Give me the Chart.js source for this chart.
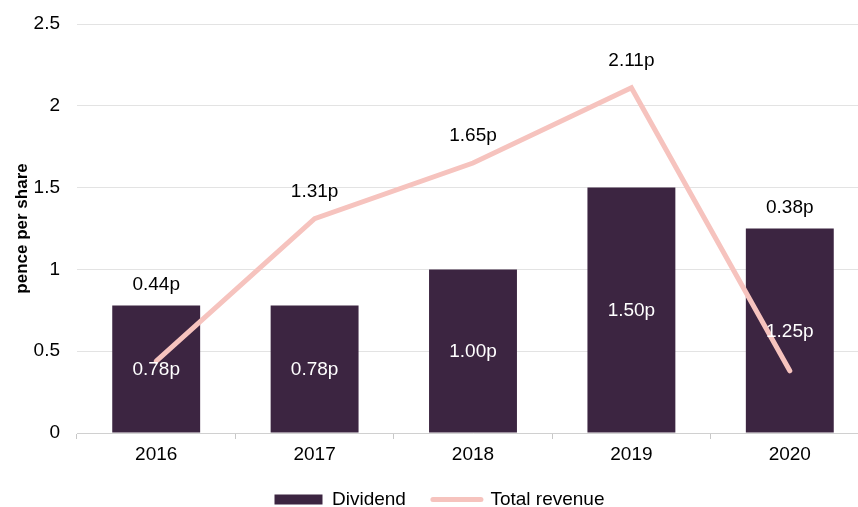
<!DOCTYPE html>
<html>
<head>
<meta charset="utf-8">
<script src="https://cdn.jsdelivr.net/npm/chart.js@4/dist/chart.umd.min.js"></script>
<style>
    body { margin: 0; overflow: hidden; background: #fff; }
    #grafico { display: block; }
</style>
</head>
<body>
<canvas id="grafico" width="880" height="519"></canvas>
<script>
const anni = ["2016", "2017", "2018", "2019", "2020"];
const dividendo = [0.78, 0.78, 1.00, 1.50, 1.25];
const ricavi = [0.44, 1.31, 1.65, 2.11, 0.38];
const tickY = [0, 0.5, 1, 1.5, 2, 2.5];

const FONT = '"Liberation Sans", Arial, sans-serif';
const VIOLA = "#3c2541";
const ROSA = "#f6c3be";

// Etichette "0.78p" dentro le barre e sopra la linea
const etichette = {
    id: "etichette",
    afterDatasetsDraw(chart) {
        let ctx = chart.ctx;
        let barre = chart.getDatasetMeta(0).data;
        let punti = chart.getDatasetMeta(1).data;
        ctx.save();
        ctx.font = "19px " + FONT;
        ctx.textAlign = "center";
        ctx.textBaseline = "middle";
        barre.forEach((b, i) => {
            ctx.fillStyle = "#ffffff";
            ctx.fillText(dividendo[i].toFixed(2) + "p", b.x, (b.y + b.base) / 2 + 1);
            let p = punti[i];
            let y = p.y < b.y ? p.y - 27 : b.y - 21;
            ctx.fillStyle = "#000000";
            ctx.fillText(ricavi[i].toFixed(2) + "p", b.x, y);
        });
        ctx.restore();
    }
};

let ctx = document.getElementById("grafico").getContext("2d");
new Chart(ctx, {
    data: {
        labels: anni,
        datasets: [{
            type: "bar",
            label: "Dividend",
            data: dividendo,
            backgroundColor: VIOLA,
            barPercentage: 0.555,
            categoryPercentage: 1,
            order: 2
        }, {
            type: "line",
            label: "Total revenue",
            data: ricavi,
            borderColor: ROSA,
            backgroundColor: ROSA,
            borderWidth: 5,
            borderCapStyle: "round",
            borderJoinStyle: "miter",
            pointRadius: 0,
            tension: 0,
            order: 1
        }]
    },
    options: {
        responsive: false,
        animation: false,
        devicePixelRatio: 1,
        layout: { padding: { top: 24, right: 11, left: 10, bottom: 0 } },
        scales: {
            x: {
                grid: {
                    offset: true,
                    drawOnChartArea: false,
                    drawTicks: true,
                    tickLength: 6,
                    color: "#c8c8c8"
                },
                border: { color: "#d0d0d0", width: 1 },
                ticks: { color: "#000", font: { family: FONT, size: 19 }, padding: 4 },
                afterFit: (asse) => { asse.height = 30; }
            },
            y: {
                min: 0,
                max: 2.5,
                afterBuildTicks: (asse) => { asse.ticks = tickY.map(v => ({ value: v })); },
                grid: { color: "#e3e3e3", drawTicks: false },
                border: { display: false },
                ticks: {
                    color: "#000",
                    font: { family: FONT, size: 19 },
                    padding: 17,
                    callback: (v) => String(v)
                },
                title: {
                    display: true,
                    text: "pence per share",
                    color: "#000",
                    font: { family: FONT, size: 17, weight: "bold" },
                    padding: { top: 2, bottom: 0 }
                },
                afterFit: (asse) => {
                    asse.width = 67;
                    asse.paddingTop = 0;
                    asse.paddingBottom = 0;
                }
            }
        },
        plugins: {
            legend: {
                position: "bottom",
                labels: {
                    color: "#000",
                    font: { family: FONT, size: 19 },
                    usePointStyle: true,
                    boxHeight: 10,
                    pointStyleWidth: 48,
                    padding: 27,
                    generateLabels: (chart) => [{
                        text: "Dividend",
                        fillStyle: VIOLA,
                        strokeStyle: VIOLA,
                        lineWidth: 0,
                        pointStyle: "rect",
                        datasetIndex: 0
                    }, {
                        text: "Total revenue",
                        fillStyle: ROSA,
                        strokeStyle: ROSA,
                        lineWidth: 5,
                        lineCap: "round",
                        pointStyle: "line",
                        datasetIndex: 1
                    }]
                }
            },
            tooltip: { enabled: false }
        }
    },
    plugins: [etichette]
});
</script>
</body>
</html>
